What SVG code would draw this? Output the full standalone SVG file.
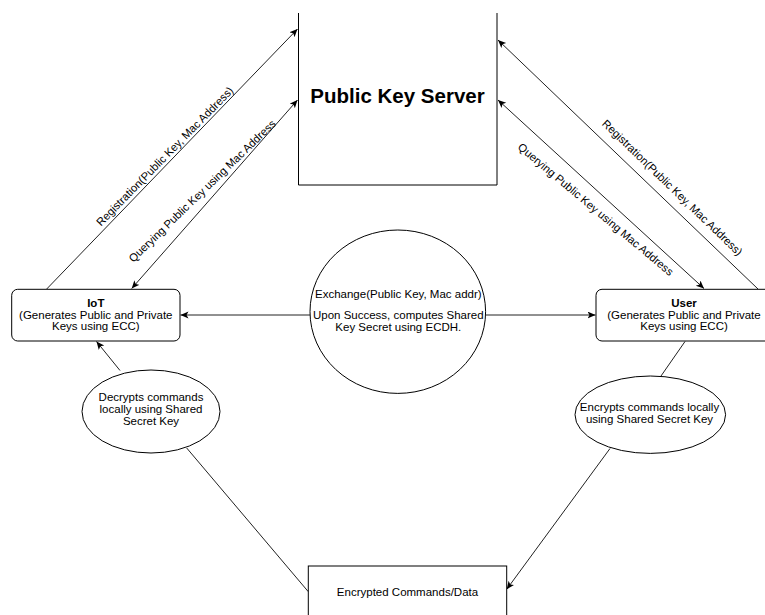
<svg xmlns="http://www.w3.org/2000/svg" width="765" height="615" viewBox="0 0 765 615">
<style>
.shape{fill:#fff;stroke:#000;stroke-width:1}
.edge{fill:none;stroke:#222;stroke-width:1}
.t{font-family:"Liberation Sans",Arial,sans-serif;font-size:11.5px;fill:#000;text-anchor:middle}
.b{font-weight:bold}
.lbl{font-family:"Liberation Sans",Arial,sans-serif;font-size:11.2px;fill:#000;text-anchor:middle}
</style>
<defs>
<marker id="arr" markerWidth="10" markerHeight="8" refX="8" refY="3.5" orient="auto-start-reverse" markerUnits="userSpaceOnUse">
<path d="M0,0 L8,3.5 L0,7 L2,3.5 z" fill="#000"/>
</marker>
</defs>
<rect width="765" height="615" fill="#fff"/>
<g id="connectors">
<line class="edge" x1="46.7" y1="289" x2="297.5" y2="29" marker-end="url(#arr)"/>
<line class="edge" x1="131.7" y1="288.5" x2="297.5" y2="100" marker-start="url(#arr)" marker-end="url(#arr)"/>
<line class="edge" x1="758" y1="289" x2="498" y2="40" marker-end="url(#arr)"/>
<line class="edge" x1="498" y1="100" x2="704" y2="288.5" marker-start="url(#arr)" marker-end="url(#arr)"/>
<line class="edge" x1="310" y1="315" x2="180.5" y2="315" marker-end="url(#arr)"/>
<line class="edge" x1="486" y1="315" x2="595.5" y2="315" marker-end="url(#arr)"/>
<line class="edge" x1="120" y1="370.5" x2="96.5" y2="341.5" marker-end="url(#arr)"/>
<line class="edge" x1="186.7" y1="448" x2="308.3" y2="591.7"/>
<line class="edge" x1="685" y1="341.5" x2="661" y2="376"/>
<line class="edge" x1="610" y1="448.5" x2="506.7" y2="589.3" marker-end="url(#arr)"/>
<text class="lbl" transform="translate(167.6,159) rotate(-45.5)">Registration(Public Key, Mac Address)</text>
<text class="lbl" transform="translate(204.9,193.8) rotate(-44)">Querying Public Key using Mac Address</text>
<text class="lbl" transform="translate(669.7,190.4) rotate(44)">Registration(Public Key, Mac Address)</text>
<text class="lbl" transform="translate(593.2,212.3) rotate(40)">Querying Public Key using Mac Address</text>
</g>
<g id="server">
<rect x="298.5" y="13" width="198.5" height="172" fill="#fff"/>
<path class="edge" style="stroke:#000" d="M298.5,13 V185 H497 V13"/>
<text class="t b" x="397.5" y="103" style="font-size:20.5px">Public Key Server</text>
</g>
<g id="iot">
<rect class="shape" x="11.7" y="289.3" width="168.3" height="51.7" rx="6"/>
<text class="t b" x="95.8" y="306.7">IoT</text>
<text class="t" x="95.8" y="318.5">(Generates Public and Private</text>
<text class="t" x="95.8" y="330.3">Keys using ECC)</text>
</g>
<g id="user">
<rect class="shape" x="596" y="289.3" width="176" height="51.7" rx="6"/>
<text class="t b" x="684" y="306.7">User</text>
<text class="t" x="684" y="318.5">(Generates Public and Private</text>
<text class="t" x="684" y="330.3">Keys using ECC)</text>
</g>
<g id="exchange">
<ellipse class="shape" cx="397.8" cy="311.7" rx="87.8" ry="81.7"/>
<text class="t" x="398.3" y="297.5">Exchange(Public Key, Mac addr)</text>
<text class="t" x="398.3" y="319">Upon Success, computes Shared</text>
<text class="t" x="398.3" y="330.8">Key Secret using ECDH.</text>
</g>
<g id="decrypts">
<ellipse class="shape" cx="151" cy="411.5" rx="69" ry="41.5"/>
<text class="t" x="151" y="401">Decrypts commands</text>
<text class="t" x="151" y="413">locally using Shared</text>
<text class="t" x="151" y="425">Secret Key</text>
</g>
<g id="encrypts">
<ellipse class="shape" cx="650.3" cy="414.7" rx="75.3" ry="38.7"/>
<text class="t" x="649.5" y="410.7">Encrypts commands locally</text>
<text class="t" x="649.5" y="423">using Shared Secret Key</text>
</g>
<g id="data">
<rect class="shape" x="308.3" y="566" width="198.4" height="70"/>
<text class="t" x="407.5" y="596">Encrypted Commands/Data</text>
</g>
</svg>
